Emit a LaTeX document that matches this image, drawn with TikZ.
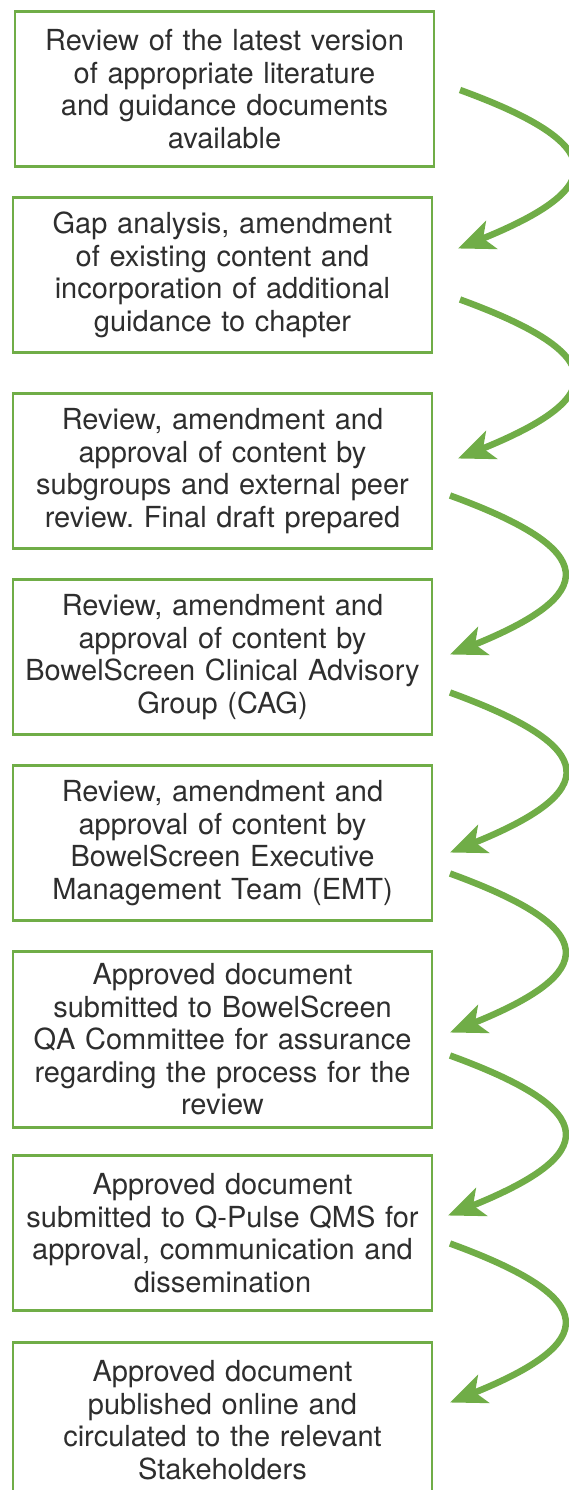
\documentclass[tikz,border=0pt]{standalone}
\usepackage{fontspec}
\setmainfont{TeX Gyre Heros}
\frenchspacing
\usetikzlibrary{positioning}
\usetikzlibrary{arrows.meta, positioning}
\definecolor{leafgreen}{HTML}{70AD47}
\definecolor{inkgrey}{HTML}{2E2E2E}
\tikzstyle{stage} = [draw=leafgreen, line width=2.5pt, outer sep=0pt, inner sep=0pt, minimum width=419pt, minimum height=155pt, text width=410pt, align=center, text=inkgrey, font=\fontsize{29}{32.5}\selectfont]
\tikzstyle{arrow} = [leafgreen, line width=6.5pt, -{Stealth[length=36pt, width=30pt, inset=9pt]}, out=-20, in=22, looseness=2.6]

\begin{document}
\begin{tikzpicture}[x=1pt, y=1pt]
    \useasboundingbox (0,0) rectangle (568,-1490);

    % Nodes
    \node[stage] (s1) at (224.5,-89) {Review of the latest version\\ of appropriate literature\\ and guidance documents\\ available};
    \node[stage, below=31pt of s1, xshift=-2pt] (s2) {Gap analysis, amendment\\ of existing content and\\ incorporation of additional\\ guidance to chapter};
    \node[stage, below=41pt of s2] (s3) {Review, amendment and\\ approval of content by\\ subgroups and external peer\\ review. Final draft prepared};
    \node[stage, below=31pt of s3] (s4) {Review, amendment and\\ approval of content by\\ BowelScreen Clinical Advisory\\ Group (CAG)};
    \node[stage, below=31pt of s4] (s5) {Review, amendment and\\ approval of content by\\ BowelScreen Executive\\ Management Team (EMT)};
    \node[stage, below=31pt of s5, minimum height=176pt] (s6) {Approved document\\ submitted to BowelScreen\\ QA Committee for assurance\\ regarding the process for the\\ review};
    \node[stage, below=28pt of s6] (s7) {Approved document\\ submitted to Q-Pulse QMS for\\ approval, communication and\\ dissemination};
    \node[stage, below=32pt of s7] (s8) {Approved document\\ published online and\\ circulated to the relevant\\ Stakeholders};

    % Edges
    \draw[arrow] ([xshift=26pt, yshift=-1pt]s1.east) to ([xshift=26pt, yshift=26.5pt]s2.east);
    \draw[arrow] ([xshift=28pt, yshift=-24.5pt]s2.east) to ([xshift=26pt, yshift=12.5pt]s3.east);
    \draw[arrow] ([xshift=18pt, yshift=-24.5pt]s3.east) to ([xshift=18pt, yshift=2.5pt]s4.east);
    \draw[arrow] ([xshift=18pt, yshift=-35.5pt]s4.east) to ([xshift=18pt, yshift=-9.5pt]s5.east);
    \draw[arrow] ([xshift=18pt, yshift=-30.5pt]s5.east) to ([xshift=18pt, yshift=7pt]s6.east);
    \draw[arrow] ([xshift=18pt, yshift=-16pt]s6.east) to ([xshift=16pt, yshift=17.5pt]s7.east);
    \draw[arrow] ([xshift=18pt, yshift=-10.5pt]s7.east) to ([xshift=18pt, yshift=17.5pt]s8.east);
\end{tikzpicture}
\end{document}
